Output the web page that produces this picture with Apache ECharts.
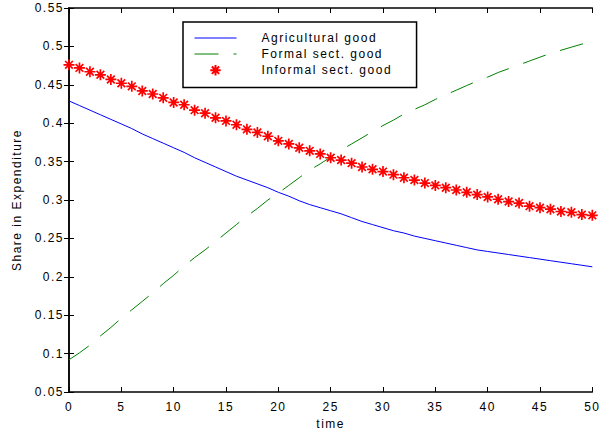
<!DOCTYPE html>
<html>
<head>
<meta charset="utf-8">
<script src="https://cdn.jsdelivr.net/npm/echarts@6/dist/echarts.min.js"></script>
<style>
  html, body { margin: 0; padding: 0; background: #fff; }
  #chart { width: 602px; height: 438px; }
  #chart svg text { letter-spacing: 1.5px; }
</style>
</head>
<body>
<div id="chart"></div>
<script>
// Time periods 0..50
const timeSteps = Array.from({ length: 51 }, (_, i) => i);

// Expenditure shares per good
const agricultural = [
  0.429, 0.423, 0.417, 0.411, 0.405, 0.399, 0.393, 0.386, 0.380, 0.374,
  0.368, 0.362, 0.355, 0.349, 0.343, 0.337, 0.331, 0.326, 0.321, 0.316,
  0.310, 0.305, 0.299, 0.294, 0.290, 0.286, 0.282, 0.277, 0.272, 0.268,
  0.264, 0.260, 0.257, 0.253, 0.250, 0.247, 0.244, 0.241, 0.238, 0.235,
  0.233, 0.231, 0.229, 0.227, 0.225, 0.223, 0.221, 0.219, 0.217, 0.215,
  0.213
];
const formalSector = [
  0.092, 0.101, 0.111, 0.123, 0.134, 0.146, 0.157, 0.168, 0.179, 0.191,
  0.202, 0.214, 0.225, 0.235, 0.246, 0.257, 0.268, 0.279, 0.289, 0.300,
  0.309, 0.319, 0.329, 0.339, 0.347, 0.356, 0.365, 0.373, 0.381, 0.389,
  0.397, 0.404, 0.412, 0.418, 0.424, 0.431, 0.437, 0.443, 0.449, 0.455,
  0.460, 0.466, 0.471, 0.476, 0.481, 0.486, 0.491, 0.495, 0.499, 0.503,
  0.506
];
const informalSector = [
  0.476, 0.472, 0.467, 0.463, 0.457, 0.452, 0.448, 0.442, 0.438, 0.433,
  0.427, 0.424, 0.417, 0.413, 0.407, 0.403, 0.398, 0.392, 0.388, 0.383,
  0.377, 0.373, 0.368, 0.364, 0.360, 0.355, 0.352, 0.348, 0.343, 0.340,
  0.337, 0.333, 0.329, 0.326, 0.322, 0.319, 0.316, 0.313, 0.310, 0.307,
  0.304, 0.301, 0.298, 0.296, 0.292, 0.290, 0.288, 0.285, 0.284, 0.281,
  0.280
];

const seriesNames = ['Agricultural good', 'Formal sect. good', 'Informal sect. good'];

// Asterisk marker: a plus overlaid with a diagonal cross
const asterisk = 'path://M0,-10L0,10M-10,0L10,0M-7,-7L7,7M-7,7L7,-7';

const FONT = 'Liberation Sans, Arial, Helvetica, sans-serif';
const textStyle = { color: '#000', fontFamily: FONT, fontSize: 12 };
const axisLine = { show: true, lineStyle: { color: '#000', width: 1.5 } };
const tickInside = { show: true, inside: true, length: 5, lineStyle: { color: '#000', width: 1 } };

const pairs = (ys) => timeSteps.map((t, i) => [t, ys[i]]);

const chart = echarts.init(document.getElementById('chart'), null, { renderer: 'svg' });
chart.setOption({
  animation: false,
  backgroundColor: '#fff',
  grid: { left: 69, right: 8, top: 8, bottom: 46, containLabel: false },
  legend: {
    orient: 'vertical',
    left: 183,
    top: 22,
    padding: [10, 53, 11, 11],
    itemGap: 4,
    itemWidth: 42,
    itemHeight: 13,
    borderColor: '#000',
    borderWidth: 1.5,
    borderRadius: 0,
    backgroundColor: '#fff',
    lineStyle: { width: 1 },
    textStyle: Object.assign({}, textStyle, { padding: [0, 0, 0, 20] }),
    // plain lines show only their stroke in the key
    data: [
      { name: seriesNames[0], itemStyle: { opacity: 0 } },
      { name: seriesNames[1], itemStyle: { opacity: 0 } },
      { name: seriesNames[2] }
    ]
  },
  xAxis: [
    {
      type: 'value', min: 0, max: 50, interval: 5, position: 'bottom',
      name: 'time', nameLocation: 'middle', nameGap: 26, nameTextStyle: textStyle,
      axisLine, axisTick: tickInside, splitLine: { show: false },
      axisLabel: Object.assign({ margin: 9 }, textStyle)
    },
    {
      type: 'value', min: 0, max: 50, interval: 5, position: 'top',
      axisLine, axisTick: tickInside, splitLine: { show: false },
      axisLabel: { show: false }
    }
  ],
  yAxis: [
    {
      type: 'value', min: 0.05, max: 0.55, interval: 0.05, position: 'left',
      name: 'Share in Expenditure', nameLocation: 'middle', nameGap: 46, nameTextStyle: textStyle,
      axisLine, axisTick: tickInside, splitLine: { show: false },
      axisLabel: Object.assign({ margin: 5, formatter: (v) => String(+v.toFixed(2)) }, textStyle)
    },
    {
      type: 'value', min: 0.05, max: 0.55, interval: 0.05, position: 'right',
      axisLine, axisTick: tickInside, splitLine: { show: false },
      axisLabel: { show: false }
    }
  ],
  series: [
    {
      name: seriesNames[0], type: 'line', data: pairs(agricultural),
      showSymbol: false, symbol: 'none',
      lineStyle: { color: '#0000ff', width: 1 }, itemStyle: { color: '#0000ff' }
    },
    {
      name: seriesNames[1], type: 'line', data: pairs(formalSector),
      showSymbol: false, symbol: 'none',
      lineStyle: { color: '#008000', width: 1, type: [24, 15] }, itemStyle: { color: '#008000' }
    },
    {
      name: seriesNames[2], type: 'line', data: pairs(informalSector),
      symbol: asterisk, symbolSize: 11, showSymbol: true,
      lineStyle: { width: 0, opacity: 0 },
      itemStyle: { color: 'rgba(0,0,0,0)', borderColor: '#ff0000', borderWidth: 1.7 }
    }
  ]
});
</script>
</body>
</html>
